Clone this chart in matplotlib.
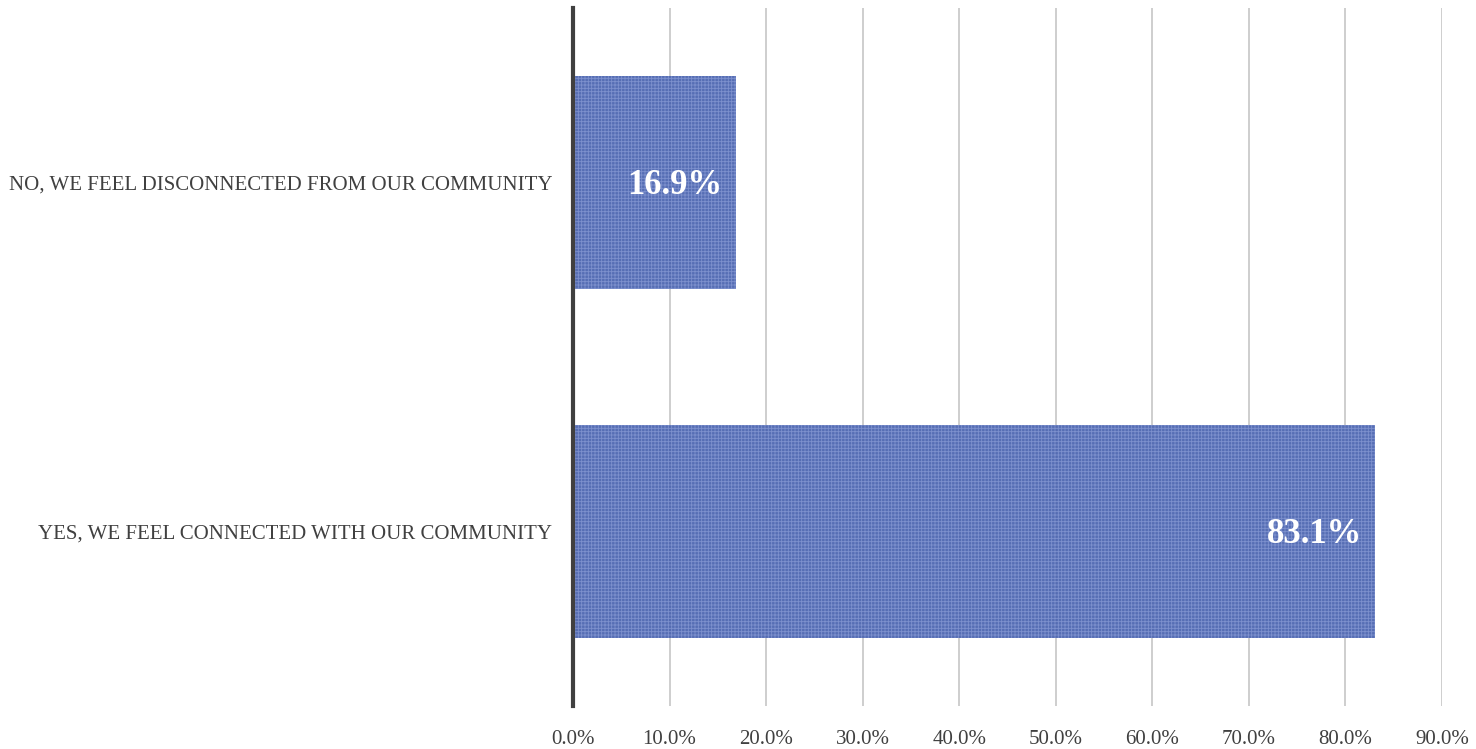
import matplotlib.pyplot as plt
from matplotlib.ticker import FuncFormatter

plt.rcParams['font.family'] = ['Liberation Serif', 'DejaVu Serif']
plt.rcParams['hatch.linewidth'] = 0.6

# survey responses (share of respondents, %)
categories = ['YES, WE FEEL CONNECTED WITH OUR COMMUNITY',
              'NO, WE FEEL DISCONNECTED FROM OUR COMMUNITY']
values = [83.1, 16.9]
ticks = [0, 10, 20, 30, 40, 50, 60, 70, 80, 90]

fig = plt.figure(figsize=(14.76, 7.49), dpi=100)
ax = fig.add_axes([573 / 1476, 43 / 749, 869 / 1476, 698 / 749])

bars = ax.barh(range(len(categories)), values, height=0.61,
               color='#4d66b0', edgecolor='#8093cf', linewidth=0,
               hatch='+++++', alpha=0.95, zorder=2)

for rect, v in zip(bars, values):
    ax.text(v - 1.4, rect.get_y() + rect.get_height() / 2 - 0.01, f'{v:.1f}%',
            ha='right', va='center', color='white', fontsize=25, fontweight='bold', zorder=3)

ax.set_xlim(0, 90)
ax.set_ylim(-0.5, 1.5)
ax.set_xticks(ticks)
ax.xaxis.set_major_formatter(FuncFormatter(lambda x, p: f'{x:.1f}%'))
ax.set_yticks(range(len(categories)))
ax.set_yticklabels(categories)
ax.tick_params(axis='both', length=0, labelsize=15, colors='#404040')
ax.tick_params(axis='x', pad=17)
ax.tick_params(axis='y', pad=15)

ax.grid(axis='x', color='#c6c6c6', linewidth=1.2, zorder=1)
ax.set_axisbelow(True)
for s in ['top', 'right', 'bottom']:
    ax.spines[s].set_visible(False)
ax.spines['left'].set_color('#404040')
ax.spines['left'].set_linewidth(3)
ax.spines['left'].set_zorder(4)

fig.savefig('out.png', dpi=100)
